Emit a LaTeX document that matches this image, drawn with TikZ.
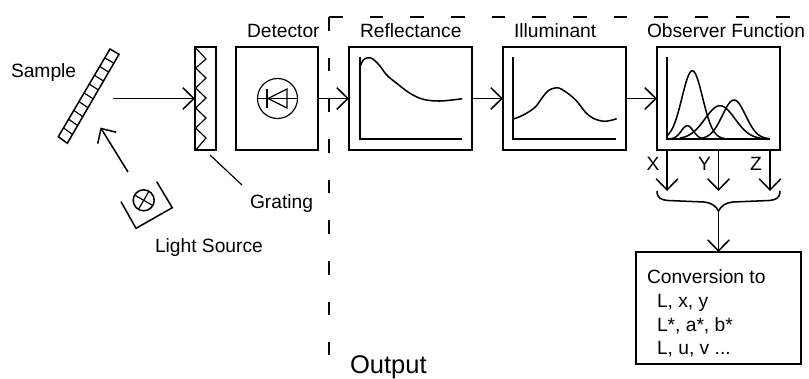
\documentclass[tikz,border=0pt]{standalone}
\usepackage{fontspec}
\setmainfont{Liberation Sans}
\usetikzlibrary{arrows.meta}

\begin{document}
\begin{tikzpicture}[x=0.03cm, y=0.03cm, line width=1.3pt, line join=miter,
        declare function={bump(\x,\m,\s)=exp(-((\x-\m)/\s)*((\x-\m)/\s)/2);}]
        \tikzstyle{every node}+=[inner sep=0pt, outer sep=0pt]
        \tikzstyle{lbl}=[anchor=base west, font=\fontsize{16.4}{18}\selectfont]
        \tikzstyle{bigbox}=[draw, minimum width=3.69cm, minimum height=3.09cm]
        \tikzstyle{arr}=[-{Straight Barb[length=9.5pt,width=18.5pt]}]
        \tikzstyle{gate}=[line width=1.1pt, dash pattern=on 11.6pt off 23.1pt]
        \useasboundingbox (0,0) rectangle (809,-378);
        % sample
        \draw (110,-49) -- (119,-54.3) -- (67.3,-143.3) -- (58.3,-136.7) -- cycle;
        \draw [line width=1pt] (63.5,-127.9) -- (72.5,-134.4);
        \draw [line width=1pt] (68.6,-119.2) -- (77.6,-125.5);
        \draw [line width=1pt] (73.8,-110.4) -- (82.8,-116.6);
        \draw [line width=1pt] (79,-101.6) -- (88,-107.7);
        \draw [line width=1pt] (84.1,-92.9) -- (93.1,-98.8);
        \draw [line width=1pt] (89.3,-84.1) -- (98.3,-89.9);
        \draw [line width=1pt] (94.5,-75.3) -- (103.5,-81);
        \draw [line width=1pt] (99.7,-66.5) -- (108.7,-72.1);
        \draw [line width=1pt] (104.8,-57.8) -- (113.8,-63.2);
        \node [lbl] (samplelabel) at (11,-77) {Sample};
        % light source
        \node [draw, circle, minimum size=0.63cm] (lamp) at (143.7,-200.3) {};
        \draw [line width=1pt] (lamp.150) -- (lamp.-30);
        \draw [line width=1pt] (lamp.60) -- (lamp.-120);
        \draw (121,-201.7) -- (136,-228.3) -- (172.3,-207.7) -- (156.7,-181.7);
        \node [lbl] (lamplabel) at (155,-252) {Light Source};
        \coordinate (lampfrom) at (128,-172);
        \coordinate (lampto) at (100.5,-127.5);
        \draw [arr] (lampfrom) -- (lampto);
        % grating
        \node [draw, minimum width=0.63cm, minimum height=3.09cm] (grating) at (205.5,-98.5) {};
        \draw [line width=1pt] (195.7,-48) -- (206,-59) -- (195.7,-68) -- (206,-78) -- (195.7,-88) -- (206,-98)
            -- (195.7,-108) -- (206,-118) -- (195.7,-128) -- (206,-138) -- (195.7,-150);
        \coordinate (samplefrom) at (113,-98.5);
        \draw [arr] (samplefrom) -- (grating.west);
        \coordinate (leadfrom) at (210,-155);
        \coordinate (leadto) at (242,-185);
        \draw [line width=1pt] (leadfrom) -- (leadto);
        \node [lbl] (gratinglabel) at (250,-208) {Grating};
        % detector
        \node [bigbox, minimum width=2.46cm] (detector) at (277,-98.5) {};
        \node [draw, circle, minimum size=1.2cm, line width=1pt] (diode) at (277.5,-98.5) {};
        \draw [line width=1pt] (diode.west) -- (diode.east);
        \draw [line width=1pt] (267,-89) -- (267,-108);
        \draw [line width=1pt] (268,-98.5) -- (287,-89) -- (287,-108) -- cycle;
        \node [lbl] (detectorlabel) at (247,-37) {Detector};
        % output border
        \coordinate (gatecorner) at (329,-17);
        \coordinate (gatebottom) at (329,-355);
        \coordinate (gateright) at (790,-17);
        \draw [gate] (gatecorner) -- (gatebottom);
        \draw [gate] (gatecorner) -- (gateright);
        \node [lbl, font=\fontsize{21.8}{24}\selectfont] (outputlabel) at (350,-373) {Output};
        % reflectance
        \node [bigbox] (reflectance) at (410.5,-98.5) {};
        \draw (360,-57) -- (360,-139) -- (462,-139);
        \draw plot [smooth, tension=0.6] coordinates {(360,-66.7) (363.3,-60) (368.3,-57.7) (373.3,-59.3) (380,-66)
            (386.7,-75) (396.7,-83.3) (410,-93.3) (423.3,-99.3) (440,-101) (462.3,-98.7)};
        \node [lbl] (reflectancelabel) at (360,-37) {Reflectance};
        % illuminant
        \node [bigbox] (illuminant) at (564.5,-98.5) {};
        \draw (513,-57) -- (513,-139) -- (616,-139);
        \draw plot [smooth, tension=0.6] coordinates {(513.3,-119) (523.3,-115) (535,-107.3) (541.7,-98.3) (548.3,-90.7)
            (555,-88) (561.7,-89.3) (575,-99.3) (585,-111.7) (593.3,-118.3) (605,-121.3) (616.7,-118.7)};
        \node [lbl] (illuminantlabel) at (514,-37) {Illuminant};
        % observer function
        \node [bigbox] (observer) at (718.5,-98.5) {};
        \draw (667,-57) -- (667,-139) -- (770,-139);
        \draw plot [domain=667:725, samples=50, smooth] (\x,{-139+68.3*bump(\x,692.3,10.3)});
        \draw plot [domain=667:710, samples=40, smooth] (\x,{-139+13.3*bump(\x,687.3,6)});
        \draw plot [domain=680:765, samples=50, smooth] (\x,{-139+33.3*bump(\x,720,15)});
        \draw plot [domain=700:770, samples=50, smooth] (\x,{-139+39*bump(\x,734,11.6)});
        \node [lbl] (observerlabel) at (647,-37) {Observer Function};
        % chain
        \draw [arr] (detector) -- (reflectance);
        \draw [arr] (reflectance) -- (illuminant);
        \draw [arr] (illuminant) -- (observer);
        % x y z
        \coordinate (xfrom) at (667,-150);
        \coordinate (yfrom) at (718.5,-150);
        \coordinate (zfrom) at (770,-150);
        \coordinate (xto) at (667,-191);
        \coordinate (yto) at (718.5,-191);
        \coordinate (zto) at (770,-191);
        \draw [arr] (xfrom) -- (xto);
        \draw [arr] (yfrom) -- (yto);
        \draw [arr] (zfrom) -- (zto);
        \node [lbl] (xlabel) at (646.5,-170) {X};
        \node [lbl] (ylabel) at (698,-170) {Y};
        \node [lbl] (zlabel) at (750,-170) {Z};
        % brace
        \coordinate (bracetip) at (718.5,-211);
        \draw (657,-191) .. controls (657,-198) and (661,-200) .. (668,-200.5) -- (704,-202)
            .. controls (711,-202.5) and (716,-206) .. (bracetip)
            .. controls (721,-206) and (726,-202.5) .. (733,-202) -- (769,-200.5)
            .. controls (776,-200) and (780,-198) .. (780,-191);
        % conversion
        \node [draw, minimum width=4.95cm, minimum height=3.36cm] (conversion) at (718.5,-308) {};
        \draw [arr] (bracetip) -- (conversion.north);
        \node [lbl] (conversionlabel) at (647,-283) {Conversion to};
        \node [lbl] (lxy) at (657,-307) {L, x, y};
        \node [lbl] (lab) at (657,-331) {L*, a*, b*};
        \node [lbl] (luv) at (657,-354) {L, u, v ...};
        \end{tikzpicture}
\end{document}
